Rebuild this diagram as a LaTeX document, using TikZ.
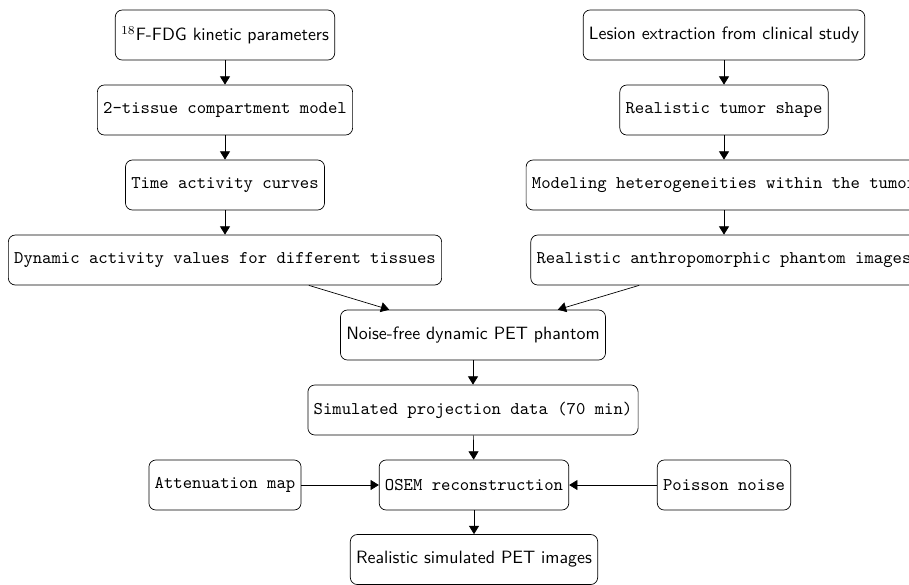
\documentclass[tikz,border=0pt]{standalone}
\usetikzlibrary{arrows.meta}
\begin{document}
\begin{tikzpicture}[x=0.577pt,y=-0.577pt,
  box/.style={draw,rounded corners=4pt,minimum height=28.85pt,align=center},
  tt/.style={box,font=\fontsize{10.3pt}{12pt}\selectfont\ttfamily},
  sf/.style={box,font=\fontsize{10.3pt}{12pt}\selectfont\sffamily},
  arr/.style={-{Triangle[length=4.8pt,width=5.8pt]}}]
\clip (0,0) rectangle (909,584);
\useasboundingbox (0,0) rectangle (909,584);
\node[sf] (n1) at (225,35) {$^{18}$F-FDG kinetic parameters};
\node[tt] (n2) at (225,110) {2-tissue compartment model};
\node[tt] (n3) at (225,185) {Time activity curves};
\node[tt] (n4) at (225,260) {Dynamic activity values for different tissues};
\node[sf] (r1) at (724,35) {Lesion extraction from clinical study};
\node[tt] (r2) at (724,110) {Realistic tumor shape};
\node[tt] (r3) at (724,185) {Modeling heterogeneities within the tumor};
\node[tt] (r4) at (724,260) {Realistic anthropomorphic phantom images};
\node[sf] (c1) at (473,335) {Noise-free dynamic PET phantom};
\node[tt] (c2) at (473,410) {Simulated projection data (70 min)};
\node[tt] (c3) at (474,485) {OSEM reconstruction};
\node[tt] (att) at (225,485) {Attenuation map};
\node[tt] (poi) at (724,485) {Poisson noise};
\node[sf] (c4) at (474,559.5) {Realistic simulated PET images};
\draw[arr] (n1) -- (n2);
\draw[arr] (n2) -- (n3);
\draw[arr] (n3) -- (n4);
\draw[arr] (r1) -- (r2);
\draw[arr] (r2) -- (r3);
\draw[arr] (r3) -- (r4);
\draw[arr] (n4) -- (c1);
\draw[arr] (r4) -- (c1);
\draw[arr] (c1) -- (c2);
\draw[arr] (c2) -- (c3);
\draw[arr] (att) -- (c3);
\draw[arr] (poi) -- (c3);
\draw[arr] (c3) -- (c4);
\end{tikzpicture}
\end{document}
